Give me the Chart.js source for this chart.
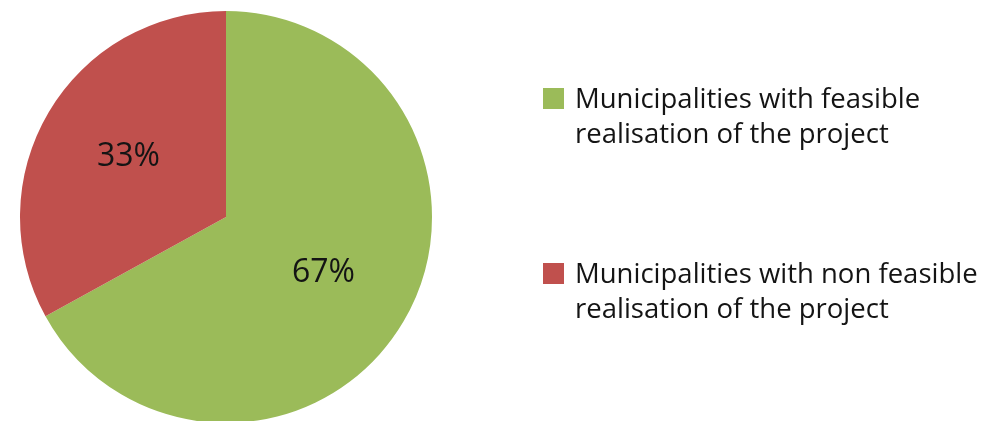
<!DOCTYPE html>
<html>
<head>
<meta charset="utf-8">
<script src="https://cdn.jsdelivr.net/npm/chart.js@4"></script>
<style>
    html, body { margin: 0; padding: 0; background: #fff; overflow: hidden; }
    #wrap { width: 1000px; height: 440px; }
</style>
</head>
<body>
<div id="wrap"><canvas id="pieChart"></canvas></div>
<script>
// 데이터
const categories = [
    ['Municipalities with feasible', 'realisation of the project'],
    ['Municipalities with non feasible', 'realisation of the project']
];
const shares = [67, 33];
const sliceColors = ['#9BBB59', '#C0504D'];

const FONT = '"Open Sans", "Noto Sans", sans-serif';

// 조각 안쪽에 퍼센트 표시
const percentLabels = {
    id: 'percentLabels',
    afterDatasetsDraw(chart) {
        const { ctx } = chart;
        const total = shares.reduce((a, b) => a + b, 0);
        chart.getDatasetMeta(0).data.forEach((arc, i) => {
            const p = arc.getProps(['x', 'y', 'startAngle', 'endAngle', 'outerRadius'], true);
            const mid = (p.startAngle + p.endAngle) / 2;
            const r = p.outerRadius * 0.55;
            ctx.save();
            ctx.font = '32px ' + FONT;
            ctx.fillStyle = '#141414';
            ctx.textAlign = 'center';
            ctx.textBaseline = 'middle';
            ctx.fillText(Math.round(shares[i] / total * 100) + '%', p.x + Math.cos(mid) * r, p.y + Math.sin(mid) * r - 2);
            ctx.restore();
        });
    }
};

// 오른쪽 범례
const sideLegend = {
    id: 'sideLegend',
    afterDraw(chart) {
        const { ctx } = chart;
        const tops = [88, 263];
        ctx.save();
        ctx.font = '27.5px ' + FONT;
        ctx.textBaseline = 'alphabetic';
        categories.forEach((lines, i) => {
            ctx.fillStyle = sliceColors[i];
            ctx.fillRect(543, tops[i], 21, 21);
            ctx.fillStyle = '#141414';
            lines.forEach((line, j) => {
                ctx.fillText(line, 575, tops[i] + 20 + j * 35);
            });
        });
        ctx.restore();
    }
};

new Chart(document.getElementById('pieChart'), {
    type: 'pie',
    data: {
        labels: categories.map(l => l.join(' ')),
        datasets: [{
            data: shares,
            backgroundColor: sliceColors,
            borderWidth: 0
        }]
    },
    options: {
        responsive: true,
        maintainAspectRatio: false,
        animation: false,
        layout: { padding: { left: 20, right: 568, top: 11, bottom: 17 } },
        plugins: {
            legend: { display: false },
            tooltip: { enabled: false }
        }
    },
    plugins: [percentLabels, sideLegend]
});
</script>
</body>
</html>
